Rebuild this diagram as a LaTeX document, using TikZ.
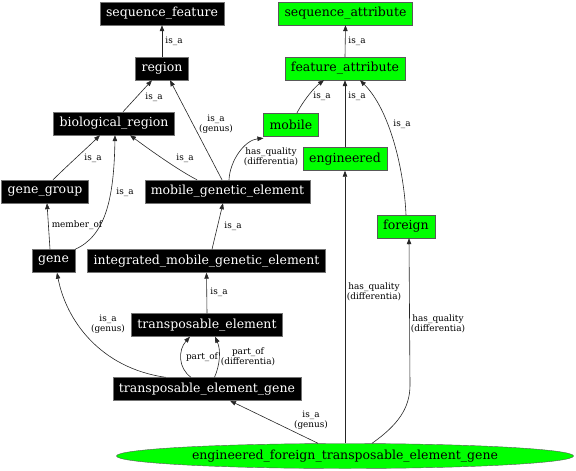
\documentclass[tikz,border=0pt]{standalone}
\usepackage{fontspec}
\setmainfont{DejaVu Serif}
\usetikzlibrary{arrows.meta,shapes.geometric}

\begin{document}
\begin{tikzpicture}[x=1pt,y=1pt,yscale=-1,xscale=1,
  blackterm/.style={draw=black!55,fill=black,text=white,font=\fontsize{12.5}{14}\selectfont,inner xsep=6pt,inner ysep=0pt,minimum height=23pt},
  greenterm/.style={draw=black!65,fill={rgb,255:red,0;green,255;blue,0},text=black,font=\fontsize{12.5}{14}\selectfont,inner xsep=6pt,inner ysep=0pt,minimum height=23pt},
  rel/.style={draw=black!85,line width=0.6pt,-{Triangle[length=6pt,width=4.5pt]}},
  rellabel/.style={font=\fontsize{8.9}{9.5}\selectfont,inner sep=0.75pt,align=center}]
\path [use as bounding box] (0,0) rectangle (576,471);

%Shape: black terms
\node [blackterm] (seqfeat) at (162,13.5) {sequence\_feature};
\node [blackterm] (region) at (162,68.5) {region};
\node [blackterm] (bioreg) at (114,123.5) {biological\_region};
\node [blackterm] (genegroup) at (45,191.5) {gene\_group};
\node [blackterm] (mge) at (227.5,191.5) {mobile\_genetic\_element};
\node [blackterm] (gene) at (53.5,261) {gene};
\node [blackterm] (imge) at (206.5,261) {integrated\_mobile\_genetic\_element};
\node [blackterm] (te) at (207,325) {transposable\_element};
\node [blackterm] (teg) at (207,389) {transposable\_element\_gene};

%Shape: green terms
\node [greenterm] (seqattr) at (345.5,13.5) {sequence\_attribute};
\node [greenterm] (featattr) at (345,68.5) {feature\_attribute};
\node [greenterm] (mobile) at (291,124.5) {mobile};
\node [greenterm] (engineered) at (345,159) {engineered};
\node [greenterm] (foreign) at (406,226.5) {foreign};
%Shape: Ellipse
\node [greenterm,ellipse,minimum width=457pt,minimum height=25pt,inner sep=0pt] (efteg) at (345,456) {engineered\_foreign\_transposable\_element\_gene};

%Straight Lines and curves
\draw [rel] (region.north) -- (seqfeat.south);
\draw [rel] ([xshift=9pt]bioreg.north) -- ([xshift=-10pt]region.south);
\draw [rel] ([xshift=-5.5pt]mge.north) -- ([xshift=8pt]region.south);
\draw [rel] ([xshift=8pt]genegroup.north) .. controls (68,165) and (88,147) .. ([xshift=-14pt]bioreg.south);
\draw [rel] (gene.north east) .. controls (105,236) and (114,200) .. ([xshift=1pt]bioreg.south);
\draw [rel] ([xshift=-30.5pt]mge.north) .. controls (178,170) and (150,150) .. ([xshift=16pt]bioreg.south);
\draw [rel] ([xshift=1.5pt]mge.north) .. controls (230,160) and (245,140) .. ([yshift=2pt]mobile.south west);
\draw [rel] ([xshift=-3.5pt]gene.north) -- ([xshift=2pt]genegroup.south);
\draw [rel] ([xshift=5.5pt]imge.north) -- ([xshift=-4.5pt]mge.south);
\draw [rel] (te.north) -- (imge.south);
\draw [rel] ([xshift=-16pt]teg.north) .. controls (178,368) and (178,350) .. ([xshift=-17pt]te.south);
\draw [rel] ([xshift=7.5pt]teg.north) .. controls (220,365) and (221,350) .. ([xshift=8pt]te.south);
\draw [rel] ([xshift=-41.4pt]teg.north) .. controls (100,368) and (66,320) .. ([xshift=3.5pt]gene.south);
\draw [rel] ([xshift=-27pt]efteg.north) -- ([xshift=23pt]teg.south);
\draw [rel] (efteg.north) -- (engineered.south);
\draw [rel] ([xshift=27pt]efteg.north) .. controls (398,425) and (410,408) .. (410,385) -- ([xshift=3pt]foreign.south);
\draw [rel] ([xshift=6pt]mobile.north) .. controls (305,98) and (315,87) .. ([xshift=-21pt]featattr.south);
\draw [rel] (engineered.north) -- (featattr.south);
\draw [rel] (foreign.north) .. controls (404,170) and (390,110) .. ([xshift=15pt]featattr.south);
\draw [rel] (featattr.north) -- (seqattr.south);

% Text Node
\node [rellabel] (lab1) at (174,41) {is\_a};
\node [rellabel] (lab2) at (154,97) {is\_a};
\node [rellabel] (lab3) at (216,124) {is\_a\\(genus)};
\node [rellabel] (lab4) at (93,158) {is\_a};
\node [rellabel] (lab5) at (125,192) {is\_a};
\node [rellabel] (lab6) at (185,158) {is\_a};
\node [rellabel] (lab7) at (271,157) {has\_quality\\(differentia)};
\node [rellabel] (lab8) at (77,225) {member\_of};
\node [rellabel] (lab9) at (233,226) {is\_a};
\node [rellabel] (lab10) at (219,292) {is\_a};
\node [rellabel] (lab11) at (202,357) {part\_of};
\node [rellabel] (lab12) at (248,357) {part\_of\\(differentia)};
\node [rellabel] (lab13) at (108,324) {is\_a\\(genus)};
\node [rellabel] (lab14) at (311,420) {is\_a\\(genus)};
\node [rellabel] (lab15) at (374,292) {has\_quality\\(differentia)};
\node [rellabel] (lab16) at (438,324) {has\_quality\\(differentia)};
\node [rellabel] (lab17) at (322,96) {is\_a};
\node [rellabel] (lab18) at (357,96) {is\_a};
\node [rellabel] (lab19) at (402,124) {is\_a};
\node [rellabel] (lab20) at (357,41) {is\_a};

\end{tikzpicture}
\end{document}
